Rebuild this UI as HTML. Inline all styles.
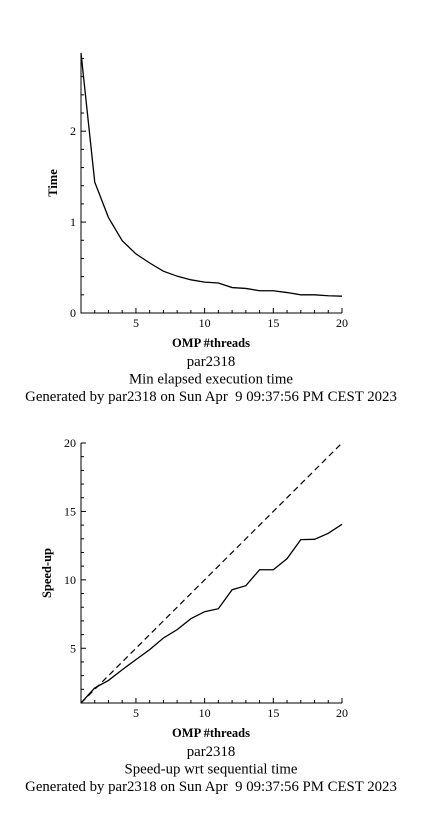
<!DOCTYPE html>
<html><head><meta charset="utf-8"><style>
html,body{margin:0;padding:0;background:#fff;width:422px;height:832px;overflow:hidden}
svg text{font-family:"Liberation Serif",serif;fill:#000}
</style></head><body>
<svg id="svg" width="422" height="832" viewBox="0 0 422 832" xmlns="http://www.w3.org/2000/svg"></svg>
<script>
const threads=[1,2,3,4,5,6,7,8,9,10,11,12,13,14,15,16,17,18,19,20];
const timeVals=[2.86,1.44,1.05,0.795,0.65,0.55,0.46,0.405,0.365,0.34,0.33,0.28,0.27,0.245,0.245,0.225,0.2,0.2,0.19,0.185];
const speedVals=[1,2.1,2.65,3.43,4.17,4.9,5.75,6.36,7.16,7.67,7.89,9.28,9.57,10.74,10.74,11.55,12.94,12.96,13.4,14.06];
const idealVals=[1,20];
const idealX=[1,20];
const xTicks=[5,10,15,20];
const timeTicks=[0,1,2];
const speedTicks=[5,10,15,20];
const svg=document.getElementById('svg');
const NS='http://www.w3.org/2000/svg';
function mk(tag,attrs,parent){const e=document.createElementNS(NS,tag);for(const k in attrs)e.setAttribute(k,attrs[k]);(parent||svg).appendChild(e);return e;}
function chart(cfg){
  const g=mk('g',{});
  
  
  const L=81,R=342,T=cfg.top,B=cfg.bottom;
  const xs=v=>L+(v-1)/(20-1)*(R-L);
  const ys=v=>B-(v-cfg.ymin)/(cfg.ymax-cfg.ymin)*(B-T);
  const ax=mk('path',{d:`M${L},${T}V${B}H${R}`,stroke:'#000','stroke-width':1,fill:'none'},g);
  
  
  for(let i=1;i<=20;i++){mk('line',{x1:xs(i),x2:xs(i),y1:B,y2:B-(xTicks.includes(i)?5:3),stroke:'#000'},g);}
  for(let v=cfg.ymin;v<=cfg.ymax+1e-9;v+=cfg.minor){const y=ys(v);const maj=Math.abs(v/cfg.major-Math.round(v/cfg.major))<1e-6;mk('line',{x1:L,x2:L+(maj?5:3),y1:y,y2:y,stroke:'#000'},g);}
  xTicks.forEach(t=>{const e=mk('text',{x:xs(t),y:B+14,'text-anchor':'middle','font-size':12},g);e.textContent=t;
    
    });
  cfg.ticks.forEach(t=>{const e=mk('text',{x:L-5,y:ys(t)+4,'text-anchor':'end','font-size':12},g);e.textContent=t;
    
    });
  const xt=mk('text',{x:211,y:B+34,'text-anchor':'middle','font-size':12.5,'font-weight':'bold'},g);xt.textContent='OMP #threads';
  
  
  const yc=(T+B)/2;
  const yt=mk('text',{x:cfg.ytx,y:yc,'text-anchor':'middle','font-size':12.5,'font-weight':'bold',transform:`rotate(-90 ${cfg.ytx} ${yc})`},g);yt.textContent=cfg.ylabel;
  
  
  if(cfg.ideal){const p=mk('path',{d:idealX.map((x,i)=>(i?'L':'M')+xs(x)+','+ys(idealVals[i])).join(''),stroke:'#000','stroke-width':1.2,fill:'none','stroke-dasharray':'6,4'},g);
    
    }
  const p=mk('path',{d:threads.map((x,i)=>(i?'L':'M')+xs(x)+','+ys(cfg.vals[i])).join(''),stroke:'#000','stroke-width':1.3,fill:'none'},g);
  
  
  const lines=['par2318',cfg.title,'Generated by par2318 on Sun Apr\u00a0 9 09:37:56 PM CEST 2023'];
  const names=['host-label','chart-title','generated-note'];
  lines.forEach((s,i)=>{const e=mk('text',{x:211,y:B+53+i*17.5,'text-anchor':'middle','font-size':14.8},g);e.textContent=s;
    
    });
}
chart({name:'time-chart',top:53,bottom:313,ymin:0,ymax:2.86,major:1,minor:0.2,ticks:timeTicks,vals:timeVals,ytx:57,ylabel:'Time',title:'Min elapsed execution time',lineName:'time-line'});
chart({name:'speedup-chart',top:443,bottom:703,ymin:1,ymax:20,major:5,minor:1,ticks:speedTicks,vals:speedVals,ytx:51,ylabel:'Speed-up',title:'Speed-up wrt sequential time',lineName:'speedup-line',ideal:true});
</script>
</body></html>
